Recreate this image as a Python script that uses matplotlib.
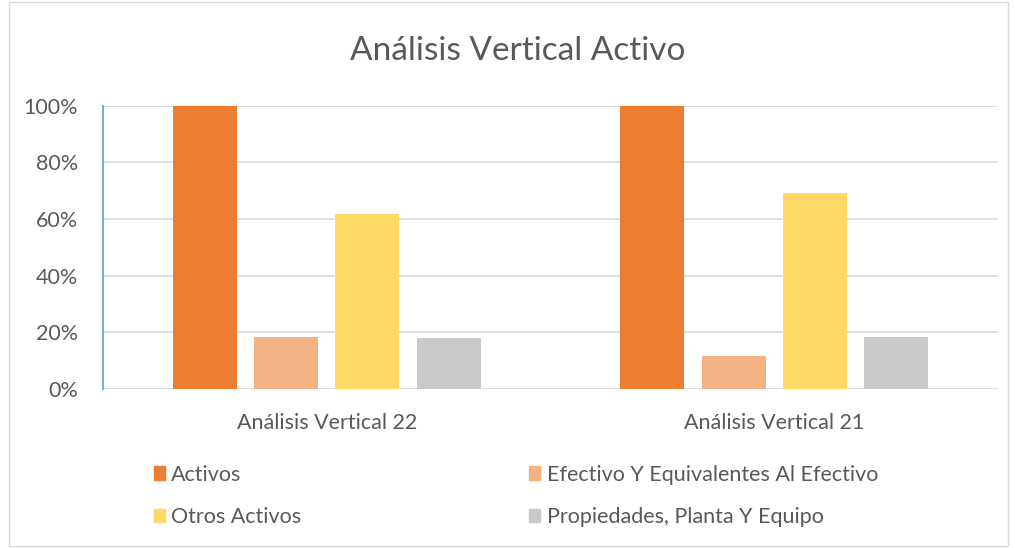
import matplotlib.pyplot as plt
import numpy as np
from matplotlib.patches import Patch, Rectangle

plt.rcParams["font.family"] = ["Lato", "DejaVu Sans"]

categories = ["Análisis Vertical 22", "Análisis Vertical 21"]
series = ["Activos", "Efectivo Y Equivalentes Al Efectivo", "Otros Activos", "Propiedades, Planta Y Equipo"]
values = [
    [1.00, 1.00],
    [0.185, 0.115],
    [0.618, 0.692],
    [0.181, 0.185],
]
colors = ["#ED7D31", "#F4B183", "#FFD966", "#C9C9C9"]
text_color = "#595959"

fig = plt.figure(figsize=(10.15, 5.48), dpi=100)
fig.patches.append(Rectangle((0.009, 0.004), 0.984, 0.992, transform=fig.transFigure,
                             fill=False, edgecolor="#D9D9D9", linewidth=1))
ax = fig.add_axes([0.1015, 0.2901, 0.8818, 0.517])

x = np.arange(len(categories))
width = 0.143
step = 0.1817
for i, (name, vals) in enumerate(zip(series, values)):
    ax.bar(x + (i - 1.5) * step, vals, width, color=colors[i], label=name, zorder=3)

ticks = np.arange(0, 1.01, 0.2)
ax.set_xlim(-0.5, 1.5)
ax.set_ylim(0, 1.0)
ax.set_yticks(ticks)
ax.set_yticklabels([f"{int(round(v * 100))}%" for v in ticks])
ax.set_xticks(x, categories)
ax.tick_params(axis="both", length=0, labelsize=15.5, colors=text_color)
ax.tick_params(axis="y", pad=18)
ax.tick_params(axis="x", pad=17)
ax.grid(axis="y", color="#D9D9D9", linewidth=1.2, zorder=0)
for s in ["top", "right", "bottom"]:
    ax.spines[s].set_visible(False)
ax.spines["left"].set_color("#5B9BD5")
ax.spines["left"].set_linewidth(1.2)

fig.text(0.51, 0.907, "Análisis Vertical Activo", ha="center", va="center",
         fontsize=24, color=text_color)

handles = [Patch(color=c) for c in colors]
leg_kw = dict(frameon=False, fontsize=15.5, labelcolor=text_color, handlelength=0.5,
              handleheight=0.6, handletextpad=0.3, labelspacing=1.05, borderaxespad=0,
              loc="upper left")
fig.legend([handles[0], handles[2]], [series[0], series[2]],
           bbox_to_anchor=(0.143, 1 - 456 / 548), **leg_kw)
fig.legend([handles[1], handles[3]], [series[1], series[3]],
           bbox_to_anchor=(0.513, 1 - 456 / 548), **leg_kw)

fig.savefig("out.png", dpi=100)
